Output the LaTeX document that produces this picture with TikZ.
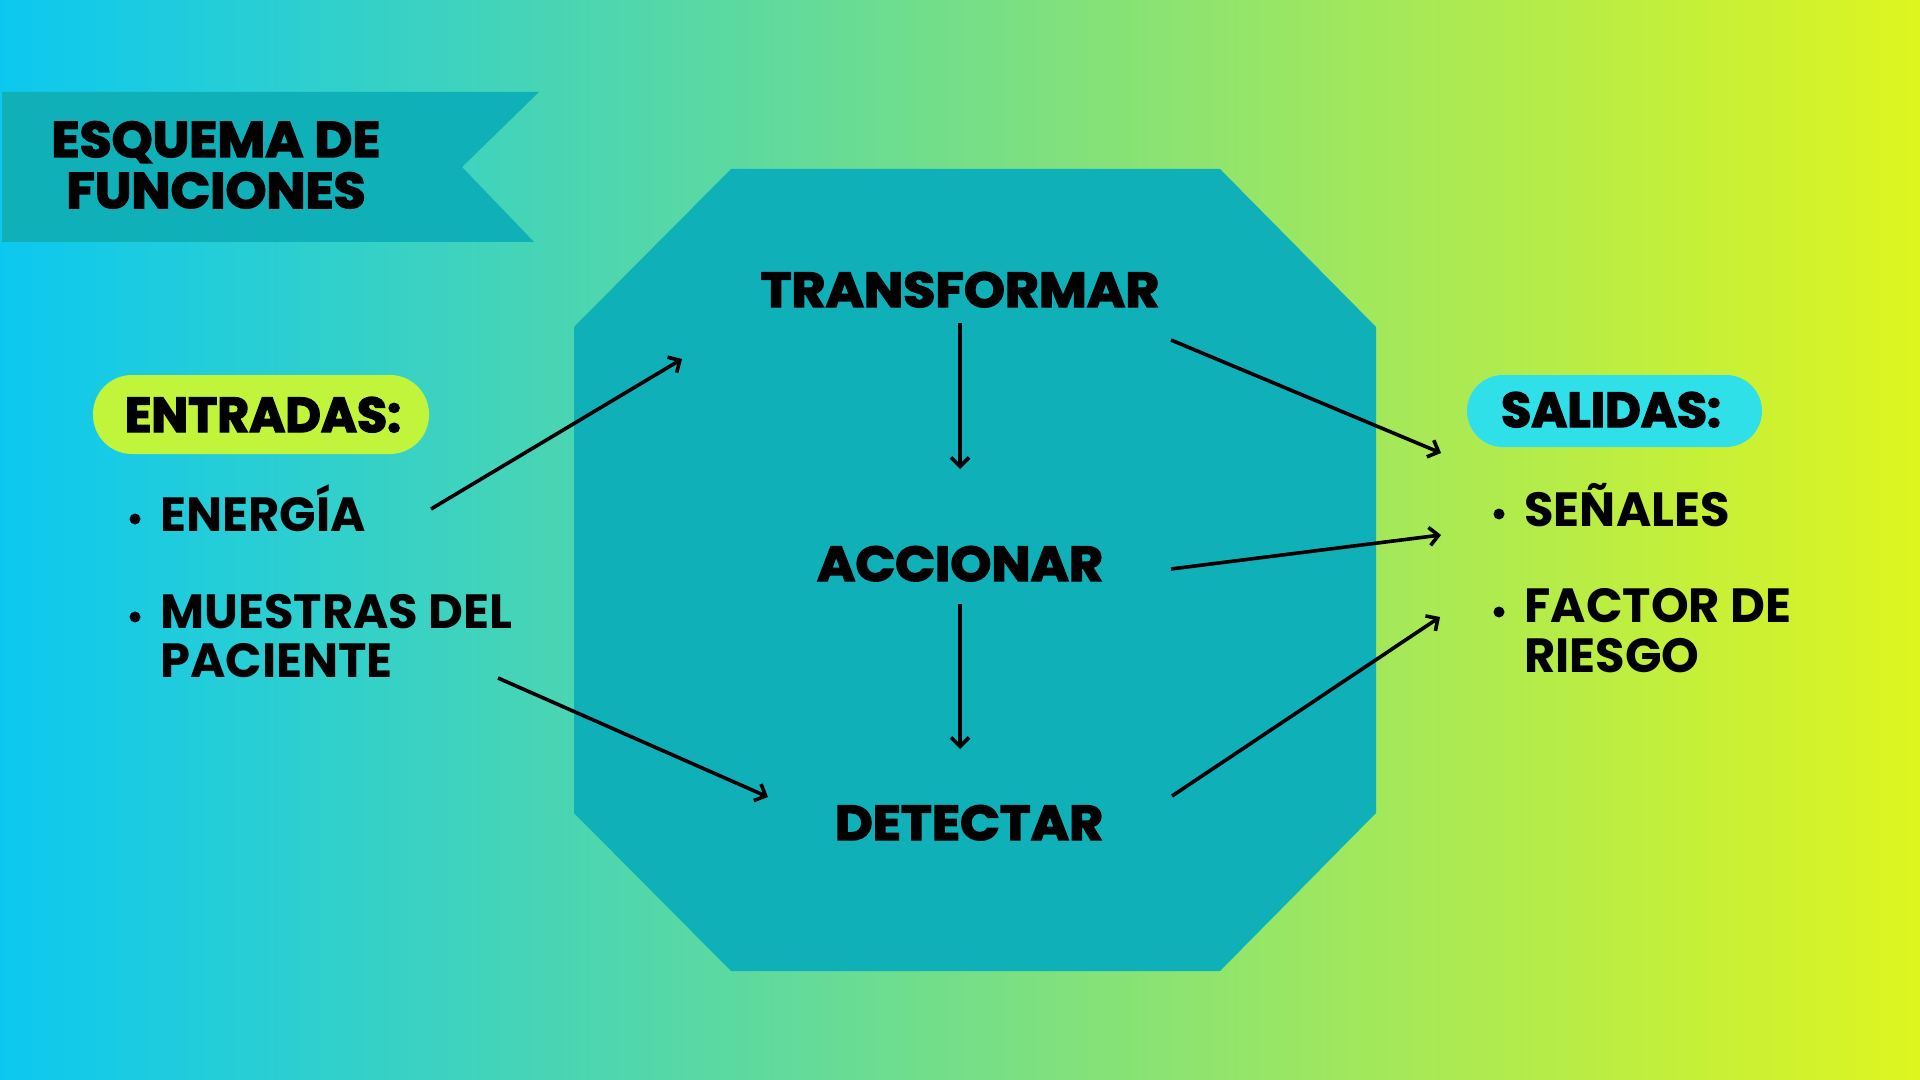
\documentclass[tikz,border=0pt]{standalone}
\usepackage{fontspec}
\setmainfont{Poppins}
\newfontfamily\heavyfont{Poppins}[FakeBold=3]
\usetikzlibrary{arrows.meta}
\definecolor{bgL}{RGB}{12,200,240}
\definecolor{bgR}{RGB}{222,245,32}
\definecolor{octc}{RGB}{15,176,184}
\definecolor{limepill}{RGB}{192,245,60}
\definecolor{cyanpill}{RGB}{48,224,232}
\tikzset{
  heading/.style={inner sep=0pt, font=\heavyfont\bfseries\fontsize{24.5}{29}\selectfont},
  bodytxt/.style={inner sep=0pt, anchor=base west, font=\bfseries\fontsize{24}{29}\selectfont},
  conn/.style={line width=1.8pt, -{Straight Barb[length=4.5pt,width=9pt,line width=1.8pt]}},
  bulletdot/.style={fill=black}
}
\begin{document}
\begin{tikzpicture}[x=0.5pt,y=-0.5pt]
\useasboundingbox (0,0) rectangle (1920,1080);
\shade[left color=bgL,right color=bgR] (0,0) rectangle (1920,1080);
% banner
\fill[octc] (2,92) -- (539,92) -- (462,167) -- (534,242) -- (2,242) -- cycle;
\node[heading, anchor=base, xscale=1.04, font=\heavyfont\bfseries\fontsize{25}{30}\selectfont] (t1) at (216,157) {ESQUEMA DE};
\node[heading, anchor=base, xscale=1.04, font=\heavyfont\bfseries\fontsize{25}{30}\selectfont] (t2) at (216,208) {FUNCIONES};
% octagon
\fill[octc] (731,169) -- (1220,169) -- (1376,327) -- (1376,813) -- (1220,971) -- (731,971) -- (574,813) -- (574,327) -- cycle;
\node[heading, anchor=base, xscale=1.065] (transf) at (960,307) {TRANSFORMAR};
\node[heading, anchor=base, xscale=1.065] (accion) at (960,581) {ACCIONAR};
\node[heading, anchor=base, xscale=1.065] (detect) at (969,840) {DETECTAR};
% pills
\fill[limepill, rounded corners=19.5pt] (93,375) rectangle (429,454);
\node[heading, anchor=base] (entradas) at (263,432) {ENTRADAS:};
\fill[cyanpill, rounded corners=18pt] (1467,375) rectangle (1762,447);
\node[heading, anchor=base] (salidas) at (1611,427) {SALIDAS:};
% left list
\fill[bulletdot] (135,519) circle (2.75pt);
\node[bodytxt] (energia) at (160,531) {ENERGÍA};
\fill[bulletdot] (135,617) circle (2.75pt);
\node[bodytxt] (muestras) at (160,628) {MUESTRAS DEL};
\node[bodytxt] (paciente) at (160,677) {PACIENTE};
% right list
\fill[bulletdot] (1499,514) circle (2.75pt);
\node[bodytxt] (senales) at (1524,526) {SEÑALES};
\fill[bulletdot] (1499,612) circle (2.75pt);
\node[bodytxt] (factor) at (1524,622) {FACTOR DE};
\node[bodytxt] (riesgo) at (1524,672) {RIESGO};
% connector ends
\coordinate (a1s) at (431,509); \coordinate (a1e) at (682,359);
\coordinate (a2s) at (498,678); \coordinate (a2e) at (768,797);
\coordinate (a3s) at (960,323); \coordinate (a3e) at (960,469);
\coordinate (a4s) at (960,604); \coordinate (a4e) at (960,749);
\coordinate (a5s) at (1171,340); \coordinate (a5e) at (1441,453);
\coordinate (a6s) at (1171,569); \coordinate (a6e) at (1441,535);
\coordinate (a7s) at (1172,796); \coordinate (a7e) at (1440,617);
\draw[conn] (a1s) -- (a1e);
\draw[conn] (a2s) -- (a2e);
\draw[conn] (a3s) -- (a3e);
\draw[conn] (a4s) -- (a4e);
\draw[conn] (a5s) -- (a5e);
\draw[conn] (a6s) -- (a6e);
\draw[conn] (a7s) -- (a7e);
\end{tikzpicture}
\end{document}
